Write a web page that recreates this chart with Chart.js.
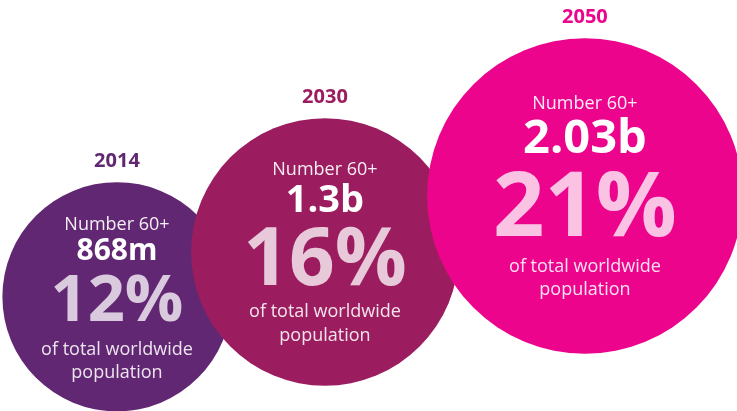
<!DOCTYPE html>
<html>
<head>
<meta charset="utf-8">
<script src="https://cdn.jsdelivr.net/npm/chart.js@4"></script>
<style>
    html, body { margin: 0; padding: 0; background: #ffffff; }
    #wrap { position: relative; width: 737px; height: 411px; }
</style>
</head>
<body>
<div id="wrap"><canvas id="ageing"></canvas></div>
<script>
const years = [2014, 2030, 2050];
const shares = [12, 16, 21];          // % of total worldwide population
const counts = ['868m', '1.3b', '2.03b'];  // number aged 60+
const colors = ['#622773', '#9c1d5f', '#ec058c'];

// text layout inside each bubble (offsets from bubble centre, font sizes)
const textLayout = [
    {label: -72, count: -45, share: 6, line1: 53, line2: 76, countSize: 30, shareSize: 65},
    {label: -82, count: -51, share: 10, line1: 60, line2: 84, countSize: 38, shareSize: 80},
    {label: -92, count: -56, share: 14, line1: 71, line2: 94, countSize: 47, shareSize: 90}
];

const FONT = '"Open Sans", "Noto Sans", sans-serif';

const bubbleText = {
    id: 'bubbleText',
    afterDatasetsDraw(chart) {
        const ctx = chart.ctx;
        const meta = chart.getDatasetMeta(0);
        meta.data.forEach((el, i) => {
            const {x, y} = el.getProps(['x', 'y'], true);
            const r = el.options.radius;
            const t = textLayout[i];
            ctx.save();
            ctx.textAlign = 'center';
            ctx.textBaseline = 'middle';

            ctx.fillStyle = colors[i];
            ctx.font = 'bold 20px ' + FONT;
            ctx.fillText(String(years[i]), x, y - r - 21);

            ctx.fillStyle = 'rgba(255,255,255,0.92)';
            ctx.font = '18px ' + FONT;
            ctx.fillText('Number 60+', x, y + t.label);

            ctx.fillStyle = '#ffffff';
            ctx.font = 'bold ' + t.countSize + 'px ' + FONT;
            ctx.fillText(counts[i], x, y + t.count);

            ctx.fillStyle = 'rgba(255,255,255,0.76)';
            ctx.font = 'bold ' + t.shareSize + 'px ' + FONT;
            ctx.fillText(shares[i] + '%', x, y + t.share);

            ctx.fillStyle = 'rgba(255,255,255,0.88)';
            ctx.font = '18px ' + FONT;
            ctx.fillText('of total worldwide', x, y + t.line1);
            ctx.fillText('population', x, y + t.line2);
            ctx.restore();
        });
    }
};

const data = {
    datasets: [{
        data: years.map((year, i) => ({x: year, y: shares[i]})),
        backgroundColor: colors,
        hoverBackgroundColor: colors,
        borderWidth: 0,
        hoverBorderWidth: 0,
        radius: ctx => 57 + 4.8 * shares[ctx.dataIndex],
        hoverRadius: 0,
        clip: false
    }]
};

const config = {
    type: 'bubble',
    data: data,
    options: {
        responsive: true,
        maintainAspectRatio: false,
        animation: false,
        events: [],
        layout: { padding: 0, autoPadding: false },
        plugins: {
            legend: { display: false },
            tooltip: { enabled: false }
        },
        scales: {
            x: { type: 'linear', min: 2005, max: 2061.7, display: false },
            y: { type: 'linear', min: 1.8, max: 38.5, display: false }
        }
    },
    plugins: [bubbleText]
};

const ageingChart = new Chart(document.getElementById('ageing'), config);
</script>
</body>
</html>
